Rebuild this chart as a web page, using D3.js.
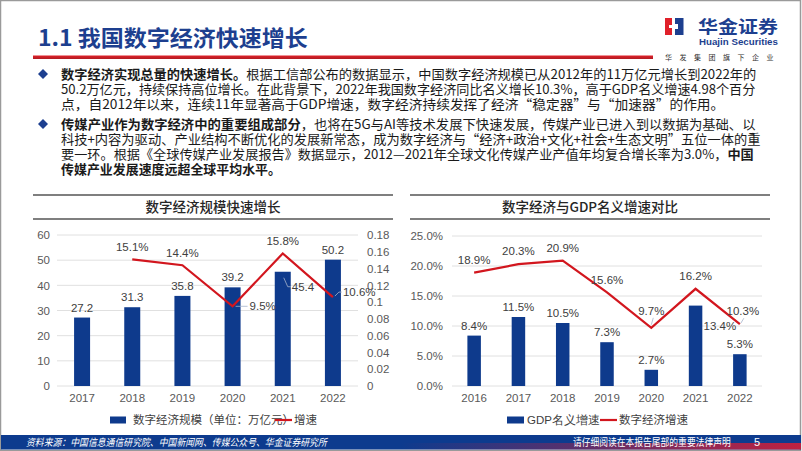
<!DOCTYPE html>
<html><head><meta charset="utf-8">
<script src="https://cdn.jsdelivr.net/npm/d3@7"></script>
<style>body{margin:0;background:#fff;} svg{display:block;}</style>
</head><body>
<svg id="c" width="802" height="451"></svg>
<script>
// ---------- data ----------
const years1 = ["2017","2018","2019","2020","2021","2022"];
const scale1 = [27.2, 31.3, 35.8, 39.2, 45.4, 50.2];
const growth1 = [null, 0.151, 0.144, 0.095, 0.158, 0.106];
const leftTicks1 = [0,10,20,30,40,50,60];
const rightTicks1 = [0,0.02,0.04,0.06,0.08,0.1,0.12,0.14,0.16,0.18];
const barLabels1 = ["27.2","31.3","35.8","39.2","45.4","50.2"];
const lineLabels1 = [null,"15.1%","14.4%","9.5%","15.8%","10.6%"];

const years2 = ["2016","2017","2018","2019","2020","2021","2022"];
const gdp2 = [8.4, 11.5, 10.5, 7.3, 2.7, 13.4, 5.3];
const digital2 = [18.9, 20.3, 20.9, 15.6, 9.7, 16.2, 10.3];
const ticks2 = [0,5,10,15,20,25];

const pageTitle = "1.1 我国数字经济快速增长";
const chartTitle1 = "数字经济规模快速增长";
const chartTitle2 = "数字经济与GDP名义增速对比";
const legend1 = ["数字经济规模（单位：万亿元）","增速"];
const legend2 = ["GDP名义增速","数字经济增速"];
const bodyLines = [
  [["数字经济实现总量的快速增长。",1],["根据工信部公布的数据显示，中国数字经济规模已从2012年的11万亿元增长到2022年的",0]],
  [["50.2万亿元，持续保持高位增长。在此背景下，2022年我国数字经济同比名义增长10.3%，高于GDP名义增速4.98个百分",0]],
  [["点，自2012年以来，连续11年显著高于GDP增速，数字经济持续发挥了经济“稳定器”与“加速器”的作用。",0]],
  [["传媒产业作为数字经济中的重要组成部分",1],["，也将在5G与AI等技术发展下快速发展，传媒产业已进入到以数据为基础、以",0]],
  [["科技+内容为驱动、产业结构不断优化的发展新常态，成为数字经济与“经济+政治+文化+社会+生态文明”五位一体的重",0]],
  [["要一环。根据《全球传媒产业发展报告》数据显示，2012—2021年全球文化传媒产业产值年均复合增长率为3.0%，",0],["中国",1]],
  [["传媒产业发展速度远超全球平均水平。",1]]
];
const footerLeft = "资料来源：中国信息通信研究院、中国新闻网、传媒公众号、华金证券研究所";
const footerRight = "请仔细阅读在本报告尾部的重要法律声明";
const pageNo = "5";

// ---------- styles ----------
const BLUE = "#0e3a8c", RED = "#d2161e", TBLUE = "#1d3f8f";
const CJK = "'Noto Sans CJK SC', sans-serif";
const NUM = "'Liberation Sans', Arial, sans-serif";
const svg = d3.select("#c");
const defs = svg.append("defs");

function fit(sel, x, w) {
  const cw = sel.node().getComputedTextLength();
  if (cw > 0) sel.attr("transform", `translate(${x},0) scale(${w/cw},1) translate(${-x},0)`);
}

// border
svg.append("rect").attr("x",0.5).attr("y",0.5).attr("width",800).attr("height",450)
  .attr("fill","none").attr("stroke","#9a9a9a").attr("stroke-width",1.5);

// ---------- header ----------
const tt = svg.append("text").attr("x",38).attr("y",46).attr("font-family",CJK)
  .attr("font-size",22).attr("font-weight",700).attr("fill",TBLUE).text(pageTitle);
fit(tt, 38, 270);
const rg = defs.append("linearGradient").attr("id","rl").attr("x1",0).attr("x2",0).attr("y1",0).attr("y2",1);
rg.append("stop").attr("offset",0).attr("stop-color","#e0222a");
rg.append("stop").attr("offset",1).attr("stop-color","#b01a22");
svg.append("rect").attr("x",33).attr("y",55.5).attr("width",620).attr("height",3.5).attr("fill","url(#rl)");

// logo
svg.append("rect").attr("x",665).attr("y",18).attr("width",9).attr("height",17).attr("fill","#e0202a");
svg.append("rect").attr("x",675).attr("y",18).attr("width",8.5).attr("height",17).attr("fill","#1d3f8f");
svg.append("path").attr("d","M672,18 L674.5,18 L674.5,24 L678,24 L678,29 L674.5,29 L674.5,35 L672,35 L672,28 L669,28 L669,25 L672,25 Z").attr("fill","#fff");
const lg1 = svg.append("text").attr("x",698).attr("y",33).attr("font-family",CJK).attr("font-size",17)
  .attr("font-weight",700).attr("fill",TBLUE).text("华金证券");
fit(lg1, 698, 80);
const lg2 = svg.append("text").attr("x",699).attr("y",45.5).attr("font-family","'Liberation Sans', Arial").attr("font-size",9.5)
  .attr("font-weight",700).attr("fill",TBLUE).text("Huajin Securities");
fit(lg2, 699, 79);
const lg3 = svg.append("text").attr("x",665).attr("y",59.5).attr("font-family",CJK).attr("font-size",7)
  .attr("fill","#333").attr("letter-spacing",7.5).text("华发集团旗下企业");
fit(lg3, 665, 116);

// ---------- body text ----------
const lineY = [74, 89, 104, 124, 139, 154, 169];
const lineW = [696, 695, 664, 695, 700, 693, 220];
bodyLines.forEach((segs, i) => {
  const t = svg.append("text").attr("x",61).attr("y",lineY[i]).attr("dy","0.36em")
    .attr("font-family",CJK).attr("font-size",13).attr("fill","#1a1a1a");
  segs.forEach(s => t.append("tspan").attr("font-weight", s[1] ? 700 : 400).text(s[0]));
  fit(t, 61, lineW[i]);
});
[74,124].forEach(y => svg.append("path")
  .attr("d",`M43,${y-5} L48,${y} L43,${y+5} L38,${y} Z`).attr("fill",TBLUE));

// ---------- chart frame helper ----------
function chartTitle(x0, x1, title) {
  svg.append("line").attr("x1",x0).attr("x2",x1).attr("y1",195).attr("y2",195).attr("stroke","#555").attr("stroke-width",1.5);
  svg.append("line").attr("x1",x0).attr("x2",x1).attr("y1",219).attr("y2",219).attr("stroke","#555").attr("stroke-width",1.5);
  svg.append("text").attr("x",(x0+x1)/2).attr("y",207).attr("dy","0.36em").attr("text-anchor","middle")
    .attr("font-family",CJK).attr("font-size",13.5).attr("font-weight",500).attr("fill","#262626").text(title);
}
function styleAxis(g) {
  g.select(".domain").remove();
  g.selectAll("text").attr("font-family",NUM).attr("font-size",11.5).attr("fill","#595959");
}
const lab = (x,y,t,anchor="middle") => svg.append("text").attr("x",x).attr("y",y).attr("dy","0.36em")
  .attr("text-anchor",anchor).attr("font-family",NUM).attr("font-size",11.5).attr("fill","#404040").text(t);

// ---------- chart 1 ----------
chartTitle(33, 393, chartTitle1);
const x1 = d3.scaleBand().domain(years1).range([57,358]);
const yL = d3.scaleLinear().domain([0,60]).range([386,235]);
const yR = d3.scaleLinear().domain([0,0.18]).range([386,235]);
svg.append("g").selectAll("line").data(leftTicks1).join("line")
  .attr("x1",57).attr("x2",358).attr("y1",d=>yL(d)).attr("y2",d=>yL(d)).attr("stroke","#e0e0e0");
svg.append("g").attr("transform","translate(57,0)")
  .call(d3.axisLeft(yL).tickValues(leftTicks1).tickSize(0).tickPadding(7)).call(styleAxis);
svg.append("g").attr("transform","translate(358,0)")
  .call(d3.axisRight(yR).tickValues(rightTicks1).tickSize(0).tickPadding(9).tickFormat(d3.format("~g"))).call(styleAxis);
svg.append("g").attr("transform","translate(0,386)")
  .call(d3.axisBottom(x1).tickSize(0).tickPadding(8)).call(styleAxis);
const bw1 = 16;
svg.append("g").selectAll("rect").data(scale1).join("rect")
  .attr("x",(d,i)=>x1(years1[i])+x1.bandwidth()/2-bw1/2).attr("width",bw1)
  .attr("y",d=>yL(d)).attr("height",d=>386-yL(d)).attr("fill",BLUE);
const line1 = d3.line().defined(d=>d[1]!=null).x(d=>x1(d[0])+x1.bandwidth()/2).y(d=>yR(d[1]));
svg.append("path").datum(years1.map((y,i)=>[y,growth1[i]])).attr("d",line1)
  .attr("fill","none").attr("stroke",RED).attr("stroke-width",2.2);
// bar labels
scale1.forEach((v,i)=>{
  const cx = x1(years1[i])+x1.bandwidth()/2;
  if (i===4) {
    svg.append("polyline").attr("points",`${cx+1},${yL(v)+6} ${cx+5},${yL(v)+15} ${cx+8},${yL(v)+15}`)
      .attr("fill","none").attr("stroke","#a6b4cc").attr("stroke-width",0.8);
    lab(cx+9, yL(v)+15, barLabels1[i], "start");
  } else lab(cx, yL(v)-10, barLabels1[i]);
});
// line labels
growth1.forEach((v,i)=>{
  if (v==null) return;
  const cx = x1(years1[i])+x1.bandwidth()/2, cy = yR(v);
  if (i===3) {
    svg.append("line").attr("x1",cx+3).attr("x2",cx+15).attr("y1",cy).attr("y2",cy).attr("stroke","#a6b4cc").attr("stroke-width",0.8);
    lab(cx+17, cy, lineLabels1[i], "start");
  } else if (i===5) {
    svg.append("polyline").attr("points",`${cx+2},${cy-1} ${cx+6},${cy-5} ${cx+9},${cy-5}`)
      .attr("fill","none").attr("stroke","#a6b4cc").attr("stroke-width",0.8);
    lab(cx+10, cy-5, lineLabels1[i], "start");
  } else lab(cx, cy-12.5, lineLabels1[i]);
});
// legend 1
svg.append("rect").attr("x",110).attr("y",416.5).attr("width",16).attr("height",7).attr("fill",BLUE);
svg.append("text").attr("x",133).attr("y",420).attr("dy","0.36em").attr("font-family",CJK).attr("font-size",11.5).attr("fill","#404040").text(legend1[0]);
svg.append("line").attr("x1",275).attr("x2",292).attr("y1",420).attr("y2",420).attr("stroke",RED).attr("stroke-width",2.2);
svg.append("text").attr("x",294).attr("y",420).attr("dy","0.36em").attr("font-family",CJK).attr("font-size",11.5).attr("fill","#404040").text(legend1[1]);

// ---------- chart 2 ----------
chartTitle(410, 770, chartTitle2);
const x2 = d3.scaleBand().domain(years2).range([452,762]);
const y2 = d3.scaleLinear().domain([0,25]).range([386,236]);
svg.append("g").selectAll("line").data(ticks2).join("line")
  .attr("x1",452).attr("x2",762).attr("y1",d=>y2(d)).attr("y2",d=>y2(d)).attr("stroke","#e0e0e0");
svg.append("g").attr("transform","translate(452,0)")
  .call(d3.axisLeft(y2).tickValues(ticks2).tickSize(0).tickPadding(9).tickFormat(d=>d3.format(".1f")(d)+"%")).call(styleAxis);
svg.append("g").attr("transform","translate(0,386)")
  .call(d3.axisBottom(x2).tickSize(0).tickPadding(8)).call(styleAxis);
const bw2 = 13.5;
svg.append("g").selectAll("rect").data(gdp2).join("rect")
  .attr("x",(d,i)=>x2(years2[i])+x2.bandwidth()/2-bw2/2).attr("width",bw2)
  .attr("y",d=>y2(d)).attr("height",d=>386-y2(d)).attr("fill",BLUE);
const line2 = d3.line().x((d,i)=>x2(years2[i])+x2.bandwidth()/2).y(d=>y2(d));
svg.append("path").datum(digital2).attr("d",line2).attr("fill","none").attr("stroke",RED).attr("stroke-width",2.2);
const pct = d => d3.format(".1f")(d)+"%";
gdp2.forEach((v,i)=>{
  const cx = x2(years2[i])+x2.bandwidth()/2;
  if (i===5) lab(cx+8, y2(v)+20, pct(v), "start");
  else lab(cx, y2(v)-10, pct(v));
});
digital2.forEach((v,i)=>{
  const cx = x2(years2[i])+x2.bandwidth()/2, cy = y2(v);
  if (i===4) {
    svg.append("line").attr("x1",cx).attr("x2",cx+2).attr("y1",cy-3).attr("y2",cy-10).attr("stroke","#a6b4cc").attr("stroke-width",0.8);
    lab(cx, cy-17, pct(v));
  } else if (i===6) {
    svg.append("line").attr("x1",cx+1).attr("x2",cx+4).attr("y1",cy-1).attr("y2",cy-6).attr("stroke","#a6b4cc").attr("stroke-width",0.8);
    lab(cx+3, cy-13, pct(v));
  } else lab(cx, cy-13, pct(v));
});
// legend 2
svg.append("rect").attr("x",507).attr("y",416.5).attr("width",17).attr("height",7).attr("fill",BLUE);
svg.append("text").attr("x",527).attr("y",420).attr("dy","0.36em").attr("font-family",NUM).attr("font-size",11.5).attr("fill","#404040").text(legend2[0]);
svg.append("line").attr("x1",600).attr("x2",617).attr("y1",420).attr("y2",420).attr("stroke",RED).attr("stroke-width",2.2);
svg.append("text").attr("x",619).attr("y",420).attr("dy","0.36em").attr("font-family",CJK).attr("font-size",11.5).attr("fill","#404040").text(legend2[1]);

// ---------- footer ----------
const fg = defs.append("linearGradient").attr("id","fg").attr("x1",0).attr("x2",1).attr("y1",0).attr("y2",0);
fg.append("stop").attr("offset",0.5).attr("stop-color","#c8203c").attr("stop-opacity",0);
fg.append("stop").attr("offset",1).attr("stop-color","#c8203c").attr("stop-opacity",0.95);
svg.append("rect").attr("x",1).attr("y",435).attr("width",800).attr("height",14.5).attr("fill","#0d3b8e");
svg.append("rect").attr("x",1).attr("y",443).attr("width",800).attr("height",6.5).attr("fill","url(#fg)");
const f1 = svg.append("text").attr("x",26).attr("y",442).attr("dy","0.36em").attr("font-family",CJK)
  .attr("font-size",10).attr("font-style","italic").attr("fill","#fff").text(footerLeft);
fit(f1, 26, 301);
const f2 = svg.append("text").attr("x",573).attr("y",442).attr("dy","0.36em").attr("font-family",CJK)
  .attr("font-size",10).attr("fill","#fff").text(footerRight);
fit(f2, 573, 158);
svg.append("text").attr("x",754).attr("y",442).attr("dy","0.36em").attr("font-family",NUM)
  .attr("font-size",11).attr("fill","#fff").text(pageNo);
</script>
</body></html>
